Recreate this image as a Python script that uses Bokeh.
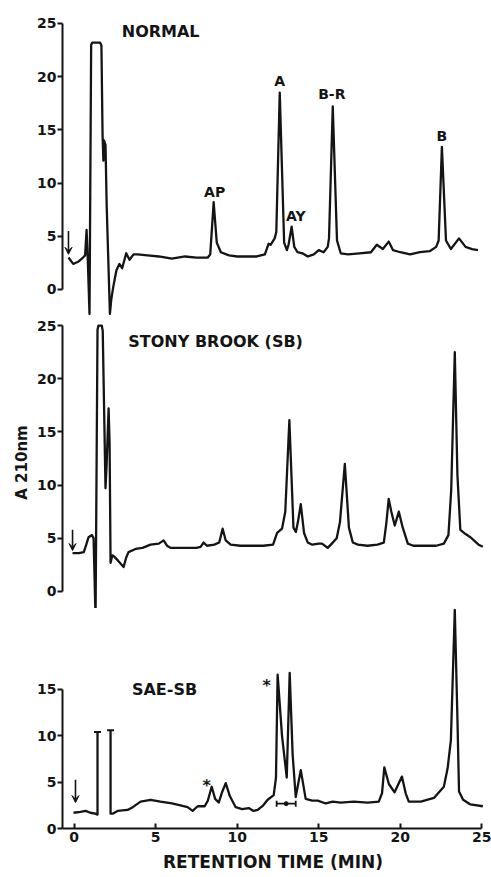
import numpy as np
from bokeh.plotting import figure
from bokeh.layouts import column
from bokeh.models import Label, Arrow, VeeHead, FixedTicker, Range1d
from bokeh.embed import file_html
from bokeh.resources import INLINE

FONT = "DejaVu Sans"
INK = "#141414"

# ---------------- data (retention time in min, absorbance units) ----------------
normal_time = [-0.34, -0.05, 0.25, 0.55, 0.68, 0.77, 0.84, 0.95, 1.05, 1.12, 1.6, 1.68,
               1.75, 1.8, 1.84, 1.93, 2.0, 2.2, 2.28, 2.4, 2.6, 2.78, 2.95, 3.2, 3.4, 3.65,
               3.9, 4.5, 5.2, 6.0, 6.8, 7.5, 8.2, 8.35, 8.56, 8.75, 9.0, 9.5, 10.0, 10.6,
               11.2, 11.7, 11.93, 12.05, 12.3, 12.4, 12.61, 12.88, 13.05, 13.15, 13.34,
               13.5, 13.7, 14.0, 14.33, 14.7, 15.0, 15.3, 15.55, 15.63, 15.86, 16.12,
               16.35, 16.8, 17.5, 18.2, 18.56, 18.93, 19.29, 19.55, 20.0, 20.6, 21.2,
               21.8, 22.2, 22.35, 22.55, 22.8, 23.1, 23.6, 24.0, 24.4, 24.76]
normal_abs = [3.0, 2.4, 2.6, 3.0, 3.2, 5.6, 3.0, -2.3, 23.0, 23.2, 23.2, 22.9,
              14.5, 12.1, 14.0, 13.6, 8.0, -2.3, -1.0, 0.2, 1.8, 2.4, 2.0, 3.4, 2.8, 3.3,
              3.3, 3.2, 3.1, 2.9, 3.1, 3.0, 3.0, 3.3, 8.2, 4.4, 3.5, 3.2, 3.1, 3.1,
              3.1, 3.3, 4.3, 4.2, 4.8, 5.4, 18.5, 4.4, 3.7, 4.2, 5.9,
              4.0, 3.5, 3.4, 3.1, 3.3, 3.7, 3.5, 4.0, 4.8, 17.2, 4.6,
              3.4, 3.3, 3.4, 3.5, 4.2, 3.8, 4.5, 3.7, 3.5, 3.3, 3.5,
              3.6, 4.0, 4.6, 13.4, 4.6, 3.8, 4.8, 4.0, 3.8, 3.7]

sb_time = [-0.09, 0.3, 0.6, 0.75, 0.89, 1.1, 1.2, 1.32, 1.44, 1.5, 1.7, 1.76, 1.93,
           2.0, 2.12, 2.18, 2.24, 2.35, 2.45, 2.7, 3.04, 3.2, 3.34, 3.77, 4.2, 4.69,
           5.2, 5.49, 5.7, 5.92, 6.8, 7.5, 7.76, 7.94, 8.15, 8.6, 8.9, 9.11, 9.3, 9.6,
           10.2, 11.0, 11.6, 12.2, 12.45, 12.75, 12.95, 13.2, 13.45, 13.6, 13.72, 13.9,
           14.1, 14.33, 14.6, 15.0, 15.2, 15.55, 15.8, 16.1, 16.3, 16.6, 16.85, 17.09,
           17.4, 18.0, 18.6, 18.99, 19.15, 19.29, 19.45, 19.66, 19.91, 20.15, 20.46,
           20.8, 21.5, 22.2, 22.67, 22.95, 23.12, 23.34, 23.5, 23.68, 24.0, 24.3,
           24.51, 24.8, 25.06]
sb_abs = [3.6, 3.6, 3.7, 4.4, 5.1, 5.3, 5.0, -2.5, 24.6, 25.0, 25.0, 24.5, 9.7,
          12.0, 17.2, 14.0, 2.7, 3.4, 3.3, 2.9, 2.3, 3.2, 3.7, 4.0, 4.1, 4.4,
          4.5, 4.8, 4.3, 4.1, 4.1, 4.1, 4.2, 4.6, 4.3, 4.4, 4.6, 5.9, 4.8, 4.4,
          4.3, 4.3, 4.3, 4.4, 5.5, 5.9, 7.5, 16.1, 6.0, 5.6, 6.5, 8.2,
          5.5, 4.6, 4.4, 4.5, 4.5, 4.1, 4.5, 5.0, 6.5, 12.0, 6.0, 4.6,
          4.4, 4.3, 4.4, 4.6, 6.5, 8.7, 7.5, 6.2, 7.5, 6.0, 4.5,
          4.3, 4.3, 4.3, 4.5, 5.3, 9.5, 22.5, 11.0, 5.8, 5.4, 5.1,
          4.8, 4.4, 4.2]

# NaN = recorder pen off scale between the two clipped peaks
sae_time = [-0.03, 0.4, 0.71, 1.0, 1.3, 1.44, 1.44, np.nan, 2.24, 2.24, 2.36, 2.67, 3.28,
            3.6, 4.08, 4.69, 5.3, 6.0, 6.53, 6.96, 7.27, 7.58, 8.01, 8.2, 8.44, 8.65,
            8.87, 9.05, 9.3, 9.55, 9.91, 10.3, 10.71, 11.0, 11.26, 11.6, 11.87, 12.24,
            12.38, 12.48, 12.75, 13.04, 13.22, 13.4, 13.59, 13.9, 14.2, 14.6, 14.94,
            15.43, 15.86, 16.35, 17.15, 18.01, 18.68, 18.88, 19.02, 19.3, 19.65, 20.1,
            20.33, 20.52, 21.26, 22.06, 22.67, 22.9, 23.1, 23.34, 23.5, 23.6, 23.85,
            24.3, 25.06]
sae_abs = [1.7, 1.8, 1.9, 1.7, 1.6, 1.5, 10.4, np.nan, 10.6, 1.6, 1.6, 1.9, 2.0,
           2.3, 2.9, 3.1, 2.9, 2.7, 2.5, 2.3, 1.9, 2.4, 2.4, 3.0, 4.5, 3.2,
           2.8, 3.8, 4.9, 3.5, 2.3, 2.1, 2.2, 1.9, 2.0, 2.5, 3.1, 3.6,
           5.5, 16.6, 10.0, 5.5, 16.8, 8.0, 3.4, 6.3, 3.2, 3.0, 3.0,
           2.7, 2.9, 2.8, 2.9, 2.8, 2.9, 3.8, 6.6, 4.8, 3.9, 5.6,
           3.8, 2.9, 2.9, 3.3, 4.5, 6.5, 9.5, 23.6, 12.0, 4.0, 3.1,
           2.6, 2.4]

# clipped (off-scale) peak tops in SAE-SB trace
sae_cap_time = [1.44, 2.24]
sae_cap_abs = [10.4, 10.6]
# collected fraction bar in SAE-SB trace
fraction_start = [12.42]
fraction_end = [13.59]
fraction_level = [2.68]

# injection arrows: time, top, bottom
inj_time = [-0.34, -0.09, 0.09]
inj_top = [5.5, 5.8, 5.25]
inj_bottom = [3.3, 3.85, 2.8]

x_ticks = [0, 5, 10, 15, 20, 25]
y_ticks_big = [0, 5, 10, 15, 20, 25]
y_ticks_small = [0, 5, 10, 15]

# ---------------- layout ----------------
PX_PER_MIN = 16.3
X_START = -0.706
X_END = 25.1
TOTAL_W = 491
LEFT = 62


def make_panel(y_start, y_end, frame_h, border_top, border_bottom, ticks, bound_top,
               with_x_axis):
    fw = int(round((X_END - X_START) * PX_PER_MIN))
    kw = {}
    if not with_x_axis:
        kw["x_axis_location"] = None
    p = figure(frame_width=fw, frame_height=frame_h,
               x_range=Range1d(X_START, X_END), y_range=Range1d(y_start, y_end),
               output_backend="svg", toolbar_location=None,
               min_border_left=LEFT, min_border_right=TOTAL_W - LEFT - fw,
               min_border_top=border_top, min_border_bottom=border_bottom, **kw)
    p.grid.visible = False
    p.outline_line_color = None
    p.background_fill_color = "white"
    p.border_fill_color = "white"
    ax = p.yaxis[0]
    ax.ticker = FixedTicker(ticks=ticks)
    ax.bounds = (0, bound_top)
    ax.axis_line_width = 2
    ax.axis_line_color = INK
    ax.major_tick_line_width = 2
    ax.major_tick_line_color = INK
    ax.major_tick_out = 5
    ax.major_tick_in = 0
    ax.minor_tick_line_color = None
    ax.major_label_standoff = 1
    ax.major_label_text_font = FONT
    ax.major_label_text_font_size = "14px"
    ax.major_label_text_font_style = "bold"
    ax.major_label_text_color = INK
    return p


def add_label(p, x, y, text, size="14px"):
    p.add_layout(Label(x=x, y=y, text=text, text_font=FONT, text_font_size=size,
                       text_font_style="bold", text_color=INK,
                       text_align="center", text_baseline="middle"))


def add_arrow(p, i):
    p.add_layout(Arrow(end=VeeHead(size=7, fill_color=INK, line_color=INK, line_width=1),
                       x_start=inj_time[i], y_start=inj_top[i],
                       x_end=inj_time[i], y_end=inj_bottom[i],
                       line_color=INK, line_width=1.6))


LW = 2.3

# Panel 1: NORMAL
p1 = make_panel(-2.54, 26.03, 304, 12, 0, y_ticks_big, 25, False)
p1.line(normal_time, normal_abs, line_width=LW, line_color=INK, line_join="round")
add_arrow(p1, 0)
add_label(p1, 5.31, 24.25, "NORMAL", "16px")
add_label(p1, 8.62, 9.2, "AP")
add_label(p1, 12.61, 19.55, "A")
add_label(p1, 13.59, 6.9, "AY")
add_label(p1, 15.8, 18.33, "B-R")
add_label(p1, 22.55, 14.38, "B")

# Panel 2: STONY BROOK (SB)
p2 = make_panel(-1.6, 25.85, 292, 0, 0, y_ticks_big, 25, False)
p2.line(sb_time, sb_abs, line_width=LW, line_color=INK, line_join="round")
add_arrow(p2, 1)
add_label(p2, 8.68, 23.5, "STONY BROOK (SB)", "16px")
p2.yaxis.axis_label = "A 210nm"
p2.yaxis.axis_label_text_font = FONT
p2.yaxis.axis_label_text_font_size = "15px"
p2.yaxis.axis_label_text_font_style = "bold"
p2.yaxis.axis_label_text_color = INK
p2.yaxis.axis_label_standoff = 3

# Panel 3: SAE-SB
p3 = make_panel(0, 23.74, 220, 0, 48, y_ticks_small, 15, True)
p3.line(sae_time, sae_abs, line_width=LW, line_color=INK, line_join="round")
p3.scatter(sae_cap_time, sae_cap_abs, marker="dash", size=7, line_width=2, line_color=INK)
p3.segment(x0=fraction_start, y0=fraction_level, x1=fraction_end, y1=fraction_level,
           line_width=1.8, line_color=INK)
p3.scatter(fraction_start + fraction_end, fraction_level * 2, marker="dash", angle=np.pi / 2,
           size=6, line_width=1.8, line_color=INK)
p3.scatter([(fraction_start[0] + fraction_end[0]) / 2], fraction_level, marker="circle",
           size=4, color=INK)
add_arrow(p3, 2)
add_label(p3, 5.55, 15.0, "SAE-SB", "16px")
add_label(p3, 8.13, 4.6, "*", "16px")
add_label(p3, 11.81, 15.4, "*", "16px")

xa = p3.xaxis[0]
xa.ticker = FixedTicker(ticks=x_ticks)
xa.bounds = (X_START, 25)
xa.axis_line_width = 2
xa.axis_line_color = INK
xa.major_tick_line_width = 2
xa.major_tick_line_color = INK
xa.major_tick_in = 5
xa.major_tick_out = 0
xa.minor_tick_line_color = None
xa.major_label_standoff = 3
xa.major_label_text_font = FONT
xa.major_label_text_font_size = "14px"
xa.major_label_text_font_style = "bold"
xa.major_label_text_color = INK
xa.axis_label = "RETENTION TIME (MIN)"
xa.axis_label_text_font = FONT
xa.axis_label_text_font_size = "17px"
xa.axis_label_text_font_style = "bold"
xa.axis_label_text_color = INK
xa.axis_label_standoff = 7

layout = column(p1, p2, p3, spacing=0)
open("out.html", "w").write(file_html(layout, INLINE))
